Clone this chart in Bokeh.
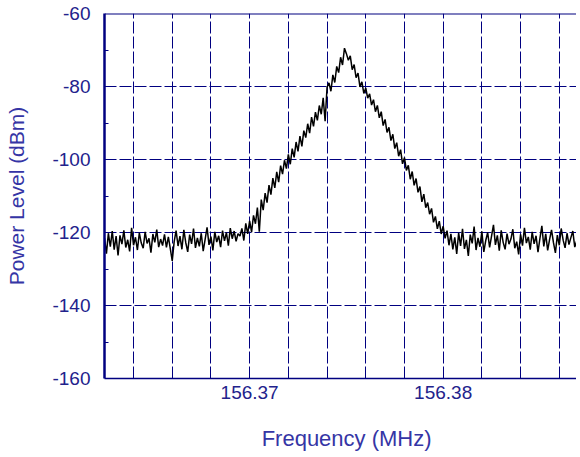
import numpy as np
from bokeh.plotting import figure
from bokeh.models import FixedTicker, Range1d, Span
from bokeh.embed import file_html
from bokeh.resources import INLINE

# sweep: 245 samples, 0.0001 MHz apart, starting at 156.3625 MHz
sweep_start_mhz = 156.3625
sweep_step_mhz = 0.0001

power_dbm = [
    # noise floor, left
    -121.5, -125.8, -120.2, -123.9, -119.6, -124.7, -121.0, -126.3, -120.8, -123.2,
    -119.4, -124.1, -122.0, -125.2, -118.7, -123.5, -121.3, -124.8, -120.1, -122.9,
    -124.3, -119.8, -123.0, -121.6, -125.5, -120.4, -122.7, -119.2, -124.0, -121.8,
    -123.6, -120.5, -124.1, -121.2, -124.4, -127.8, -122.5, -119.5, -123.7, -121.0,
    -124.6, -119.3, -122.8, -125.3, -120.6, -123.1, -118.9, -124.2, -121.5, -123.8,
    -120.2, -125.1, -121.9, -118.6, -123.4, -121.1, -124.9, -119.8, -122.6, -120.9,
    -124.0, -119.5, -122.3, -120.0, -123.6, -118.8, -121.7, -119.6, -122.4, -120.3,
    # rising edge
    -121.0, -118.9, -122.2, -117.5, -120.4,
    -116.8, -119.9, -115.3, -117.6, -113.2, -119.8, -111.0, -113.9, -109.2, -111.8,
    -107.0, -109.6, -105.1, -107.8, -103.4, -106.2, -101.7, -104.0, -100.2, -102.5,
    -98.6, -101.3, -97.0, -99.4, -95.2, -97.8, -93.6, -96.4, -92.1, -94.0,
    -90.2, -92.8, -88.4, -90.9, -87.0, -89.3, -85.2, -87.6, -83.1, -89.5,
    -80.2, -79.0, -81.3, -76.8, -78.9, -74.5, -76.2, -72.0, -74.1, -69.5,
    # falling edge
    -71.0, -72.8, -71.6, -75.4, -74.0, -77.6, -76.3, -80.1, -78.7, -81.9,
    -80.4, -83.2, -82.0, -85.1, -83.6, -86.9, -85.2, -88.6, -86.9, -90.7,
    -89.0, -92.6, -91.2, -94.8, -93.1, -97.0, -95.4, -99.1, -97.3, -101.2,
    -99.5, -103.0, -101.6, -105.4, -103.3, -107.1, -105.2, -109.0, -107.4, -111.6,
    -109.5, -113.2, -111.8, -115.0, -113.4, -117.2, -115.6, -119.0, -116.9, -120.4,
    -118.3, -121.6, -119.5, -123.5, -120.4, -124.6,
    # noise floor, right
    -121.3, -125.9, -120.1, -123.7, -119.0, -124.5, -122.0, -126.4, -120.6, -123.0,
    -118.4, -124.8, -121.5, -123.9, -119.7, -125.3, -122.2, -120.0, -124.1, -121.0,
    -117.9, -123.4, -120.8, -125.0, -119.4, -122.7, -124.6, -120.3, -123.2, -121.8,
    -119.1, -124.3, -122.5, -126.0, -120.5, -123.6, -118.7, -122.9, -121.2, -124.7,
    -119.8, -123.1, -120.9, -125.4, -121.6, -118.2, -123.8, -120.4, -124.9, -121.9,
    -119.3, -122.8, -125.6, -120.7, -123.5, -118.9, -122.1, -124.2, -120.2, -123.3,
    -121.4, -119.6, -124.0, -122.3,
]

freq_mhz = sweep_start_mhz + sweep_step_mhz * np.arange(len(power_dbm))

x_tick_labels = [156.37, 156.38]
x_grid_freqs = [156.364, 156.366, 156.368, 156.370, 156.372, 156.374,
                156.376, 156.378, 156.380, 156.382, 156.384, 156.386]
y_ticks = [-160, -140, -120, -100, -80, -60]
y_minor_ticks = [-150, -130, -110, -90, -70]

NAVY = "#000080"
TICK_COLOR = "#22228c"
LABEL_COLOR = "#3535a5"
FONT = "Liberation Sans"

p = figure(width=576, height=457, output_backend="svg", toolbar_location=None,
           x_range=Range1d(156.3625, 156.38689), y_range=Range1d(-160, -60),
           min_border_left=104, min_border_right=0, min_border_top=13,
           min_border_bottom=79)
p.outline_line_color = None
p.background_fill_color = "white"
p.border_fill_color = "white"

p.line(freq_mhz, power_dbm, line_color="black", line_width=1.5)

# grids
p.xgrid.ticker = FixedTicker(ticks=x_grid_freqs)
p.ygrid.ticker = FixedTicker(ticks=[-140, -120, -100, -80])
for g in (p.xgrid, p.ygrid):
    g.grid_line_color = NAVY
    g.grid_line_width = 1
    g.grid_line_dash = "12 3"

# top border
p.add_layout(Span(location=-60, dimension="width", line_color=NAVY, line_width=2))

# x axis
xa = p.xaxis[0]
xa.ticker = FixedTicker(ticks=x_tick_labels)
xa.major_label_overrides = {t: f"{t:.2f}" for t in x_tick_labels}
xa.axis_line_color = NAVY
xa.axis_line_width = 1.5
xa.major_tick_out = 0
xa.major_tick_in = 0
xa.minor_tick_out = 0
xa.minor_tick_in = 0
xa.major_label_standoff = 7
xa.major_label_text_font = FONT
xa.major_label_text_font_size = "19px"
xa.major_label_text_color = TICK_COLOR
xa.axis_label = "\u00a0\u00a0Frequency (MHz)"
xa.axis_label_text_font = FONT
xa.axis_label_text_font_size = "22px"
xa.axis_label_text_font_style = "normal"
xa.axis_label_text_color = LABEL_COLOR
xa.axis_label_standoff = 24

# y axis
ya = p.yaxis[0]
ya.ticker = FixedTicker(ticks=y_ticks, minor_ticks=y_minor_ticks)
ya.major_label_overrides = {t: f"-{abs(t)}" for t in y_ticks}
ya.axis_line_color = NAVY
ya.axis_line_width = 2.5
ya.major_tick_out = 0
ya.major_tick_in = 0
ya.minor_tick_out = 0
ya.minor_tick_in = 4
ya.minor_tick_line_color = NAVY
ya.major_label_standoff = 14
ya.major_label_text_font = FONT
ya.major_label_text_font_size = "19px"
ya.major_label_text_color = TICK_COLOR
ya.axis_label = "Power Level (dBm)"
ya.axis_label_text_font = FONT
ya.axis_label_text_font_size = "21px"
ya.axis_label_text_font_style = "normal"
ya.axis_label_text_color = LABEL_COLOR
ya.axis_label_standoff = 21

open("out.html", "w").write(file_html(p, INLINE))
